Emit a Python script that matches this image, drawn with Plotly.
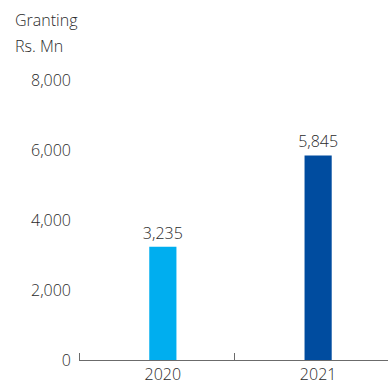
import plotly.graph_objects as go

# Granting volume by year (Rs. Mn)
years = [2020, 2021]
granting = [3235, 5845]
bar_colors = ["#00AEEF", "#004C9F"]
y_ticks = [0, 2000, 4000, 6000, 8000]
y_tick_text = ["0", "2,000", "4,000", "6,000", "8,000"]
title_lines = ["Granting", "Rs. Mn"]

FONT = "Open Sans"
TEXT = "#2a2a2a"
LIGHT = 300

fig = go.Figure(
    go.Bar(
        x=years,
        y=granting,
        marker=dict(color=bar_colors, line=dict(width=0)),
        width=0.175,
        text=[f"{v:,}" for v in granting],
        textposition="outside",
        constraintext="none",
        textfont=dict(family=FONT, size=16, color=TEXT, weight=LIGHT),
        cliponaxis=False,
        hoverinfo="skip",
    )
)

fig.update_layout(
    width=388,
    height=388,
    margin=dict(l=79, r=0, t=80, b=28),
    paper_bgcolor="white",
    plot_bgcolor="white",
    showlegend=False,
    uniformtext=dict(minsize=16, mode="show"),
    font=dict(family=FONT, size=16, color=TEXT, weight=LIGHT),
    xaxis=dict(
        type="linear",
        range=[2019.46, 2021.45],
        tickvals=years,
        ticktext=[str(y) for y in years],
        ticks="",
        showgrid=False,
        zeroline=False,
        showline=True,
        linecolor="#6b6b6b",
        linewidth=1,
        tickfont=dict(family=FONT, size=16, color=TEXT, weight=LIGHT),
        minor=dict(
            tick0=2019.46,
            dtick=1,
            ticks="inside",
            ticklen=7,
            tickcolor="#6b6b6b",
            tickwidth=1,
            showgrid=False,
        ),
    ),
    yaxis=dict(
        range=[0, 8000],
        tickvals=y_ticks,
        ticktext=y_tick_text,
        ticks="",
        showgrid=False,
        zeroline=False,
        showline=False,
        ticklabelstandoff=7,
        tickfont=dict(family=FONT, size=16, color=TEXT, weight=LIGHT),
    ),
    annotations=[
        dict(
            text=title_lines[0],
            xref="paper", yref="paper",
            x=-0.214, y=1.214,
            xanchor="left", yanchor="middle",
            showarrow=False,
            font=dict(family=FONT, size=16, color=TEXT, weight=LIGHT),
        ),
        dict(
            text=title_lines[1],
            xref="paper", yref="paper",
            x=-0.214, y=1.121,
            xanchor="left", yanchor="middle",
            showarrow=False,
            font=dict(family=FONT, size=16, color=TEXT, weight=LIGHT),
        ),
    ],
)

fig.write_html("out.html")
